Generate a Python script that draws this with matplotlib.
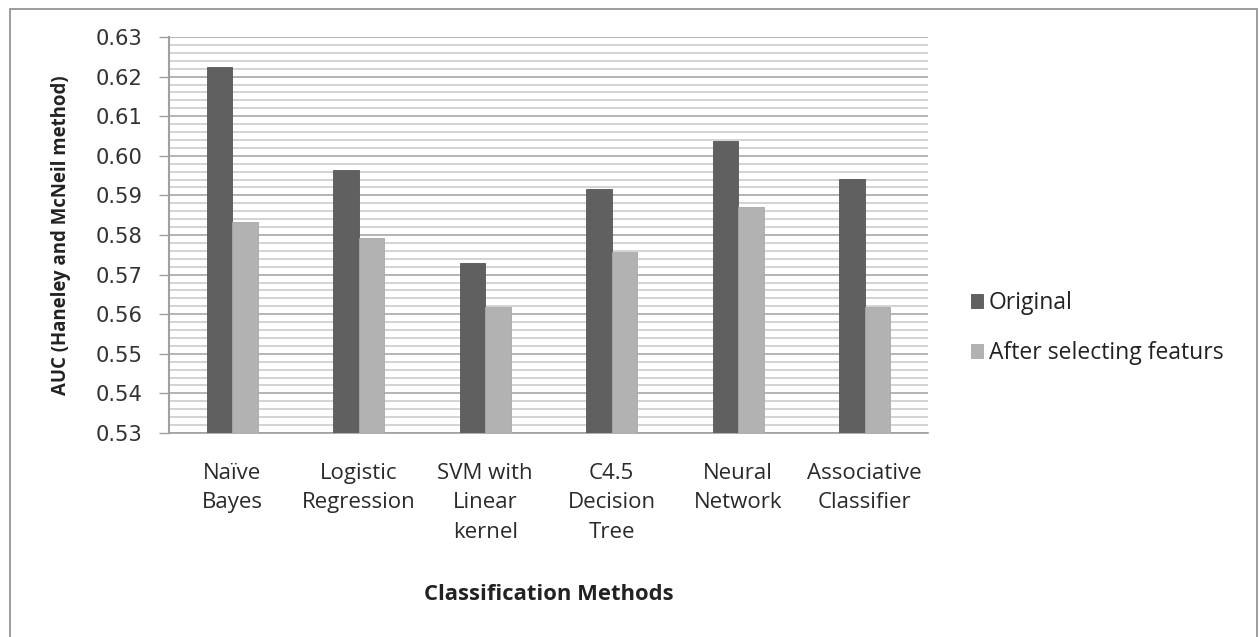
import matplotlib
matplotlib.use("Agg")
import matplotlib.pyplot as plt
import numpy as np
from matplotlib.patches import Rectangle
from matplotlib.ticker import MultipleLocator

categories = ["Naïve\nBayes", "Logistic\nRegression", "SVM with\nLinear\nkernel",
              "C4.5\nDecision\nTree", "Neural\nNetwork", "Associative\nClassifier"]
original = [0.6223, 0.5964, 0.5729, 0.5917, 0.6038, 0.5942]
after_sel = [0.5832, 0.5792, 0.5617, 0.5758, 0.5871, 0.5617]
series_names = ["Original", "After selecting featurs"]
y_ticks = [0.53, 0.54, 0.55, 0.56, 0.57, 0.58, 0.59, 0.60, 0.61, 0.62, 0.63]

W, H = 1259, 637
fig = plt.figure(figsize=(W / 100, H / 100), dpi=100)
fig.patch.set_facecolor("white")
ax = fig.add_axes([169 / W, 1 - 433 / H, (928 - 169) / W, (433 - 37) / H])

# figure frame
fig.patches.append(Rectangle((10 / W, -0.01), (1257 - 10) / W, 1 - 8.5 / H + 0.01,
                             transform=fig.transFigure, fill=False,
                             edgecolor="#8c8c8c", linewidth=1.2, zorder=0))

x = np.arange(len(categories))
bw = 0.2
ax.bar(x - bw / 2, original, bw, bottom=0, color="#606060", edgecolor="#555555",
       linewidth=0.6, label=series_names[0], zorder=3)
ax.bar(x + bw / 2, after_sel, bw, bottom=0, color="#b2b2b2", edgecolor="#a8a8a8",
       linewidth=0.6, label=series_names[1], zorder=3)

ax.set_xlim(-0.5, len(categories) - 0.5)
ax.set_ylim(0.53, 0.63)
ax.set_yticks(y_ticks)
ax.set_yticklabels([f"{v:.2f}" for v in y_ticks], fontsize=15.2,
                   family="DejaVu Sans", color="#333333")
ax.yaxis.set_minor_locator(MultipleLocator(0.002))
ax.grid(which="major", axis="y", color="#a0a0a0", linewidth=1.1, zorder=1)
ax.grid(which="minor", axis="y", color="#c8c8c8", linewidth=1.1, zorder=1)
ax.tick_params(axis="y", which="major", length=7, width=1, color="#a0a0a0",
               direction="out", pad=12)
ax.tick_params(axis="y", which="minor", length=0)
ax.set_xticks(x)
ax.set_xticklabels(categories, fontsize=16, family="Open Sans", color="#2a2a2a",
                   linespacing=1.52, va="top")
ax.tick_params(axis="x", length=0, pad=21.5)

for s in ["top", "right"]:
    ax.spines[s].set_visible(False)
ax.spines["left"].set_color("#a0a0a0")
ax.spines["left"].set_linewidth(1.5)
ax.spines["bottom"].set_color("#a0a0a0")
ax.spines["bottom"].set_linewidth(1.2)

ax.set_xlabel("Classification Methods", fontsize=15.8, fontweight="bold",
              family="Open Sans", color="#222222")
ax.xaxis.set_label_coords(0.5, -(584 - 433) / (433 - 37))
ax.set_ylabel("AUC (Haneley and McNeil method)", fontsize=13.4, fontweight="bold",
              family="Open Sans", color="#222222")
ax.yaxis.set_label_coords(-(169 - 71) / (928 - 169), 0.5)

leg = ax.legend(loc="center left", bbox_to_anchor=(950 / W, 1 - 328 / H),
                bbox_transform=fig.transFigure, frameon=False,
                prop={"family": "Open Sans", "size": 16.5}, handlelength=0.55,
                handleheight=0.55, handletextpad=0.25, labelspacing=1.15)
for t in leg.get_texts():
    t.set_color("#222222")

fig.savefig("out.png", dpi=100, facecolor="white")
